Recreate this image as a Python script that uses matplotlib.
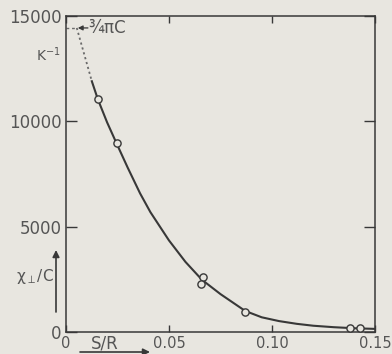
#!/usr/bin/env python3
"""Perpendicular susceptibility chi_perp/C versus S/R, with the 3/4 pi C limit."""
import numpy as np
import matplotlib.pyplot as plt

# measured points (open circles)
pts_sr = [0.0155, 0.0246, 0.0667, 0.0657, 0.087, 0.138, 0.1425]
pts_chi = [11050, 8950, 2620, 2290, 950, 190, 190]

# smooth curve drawn through the data
curve_sr = [0.0126, 0.0155, 0.020, 0.0246, 0.030, 0.036, 0.041, 0.050,
            0.058, 0.066, 0.075, 0.087, 0.095, 0.1034, 0.112, 0.120,
            0.130, 0.140, 0.150]
curve_chi = [11900, 11050, 9950, 8950, 7800, 6580, 5690, 4350,
             3330, 2480, 1800, 1000, 700, 520, 390, 300,
             230, 180, 150]

# dotted extrapolation towards S/R -> 0 and the 3/4 pi C level
extrap_sr = [0.0053, 0.0126]
extrap_chi = [14430, 11900]
limit_chi = 14430

xticks = [0, 0.05, 0.10, 0.15]
xlabels = ['0', '0.05', '0.10', '0.15']
yticks = [0, 5000, 10000, 15000]
ylabels = ['0', '5000', '10000', '15000']

BG = '#e8e6e0'
INK = '#383838'
TXT = '#555555'

fig = plt.figure(figsize=(3.92, 3.54), dpi=100, facecolor=BG)
ax = fig.add_axes([0.168, 0.062, 0.789, 0.893], facecolor=BG)

ax.plot(curve_sr, curve_chi, color=INK, lw=1.5, zorder=2)
ax.plot(extrap_sr, extrap_chi, color='#6a6a6a', lw=1.3, ls=(0, (1.2, 1.6)), zorder=2)
ax.plot([0, extrap_sr[0]], [limit_chi, limit_chi], color='#6a6a6a', lw=1.0,
        ls=(0, (2, 2)), zorder=2)
ax.plot(pts_sr, pts_chi, ls='none', marker='o', ms=5.2, mfc=BG, mec=INK,
        mew=1.0, zorder=3)

ax.annotate('', xy=(0.0058, limit_chi), xytext=(0.0107, limit_chi),
            arrowprops=dict(arrowstyle='-|>', color=INK, lw=0.9,
                            mutation_scale=7, shrinkA=0, shrinkB=0))
ax.text(0.0108, limit_chi, '¾πC', fontsize=12, color=TXT, ha='left', va='center')

ax.set_xlim(0, 0.15)
ax.set_ylim(0, 15000)
ax.set_xticks(xticks)
ax.set_xticklabels(xlabels)
ax.set_yticks(yticks)
ax.set_yticklabels(ylabels)
ax.tick_params(axis='x', direction='in', length=5, width=1, color=INK,
               labelsize=10.5, labelcolor=TXT, pad=3, top=True)
ax.tick_params(axis='y', direction='in', length=8, width=1, color=INK,
               labelsize=12, labelcolor=TXT, pad=3, right=True)
for side in ('left', 'right', 'top', 'bottom'):
    ax.spines[side].set_color(INK)
    ax.spines[side].set_linewidth(1.1)

# axis labels with arrows, placed as in the original figure
fig.text(36 / 392, 1 - 55 / 354, 'K$^{-1}$', fontsize=10, color=TXT,
         ha='left', va='center')
fig.text(16 / 392, 1 - 277 / 354, 'χ$_{\\perp}$/C', fontsize=11, color=TXT,
         ha='left', va='center')
fig.text(91 / 392, 1 - 343 / 354, 'S/R', fontsize=12, color=TXT,
         ha='left', va='center')
fig.add_artist(plt.Annotation('', xy=(56 / 392, 1 - 250 / 354),
                              xytext=(56 / 392, 1 - 312 / 354),
                              xycoords='figure fraction',
                              arrowprops=dict(arrowstyle='-|>', color=INK, lw=1.2,
                                              mutation_scale=10, shrinkA=0, shrinkB=0)))
fig.add_artist(plt.Annotation('', xy=(150 / 392, 1 - 352 / 354),
                              xytext=(80 / 392, 1 - 352 / 354),
                              xycoords='figure fraction',
                              arrowprops=dict(arrowstyle='-|>', color=INK, lw=1.2,
                                              mutation_scale=10, shrinkA=0, shrinkB=0)))

fig.savefig('out.png', dpi=100, facecolor=BG)
